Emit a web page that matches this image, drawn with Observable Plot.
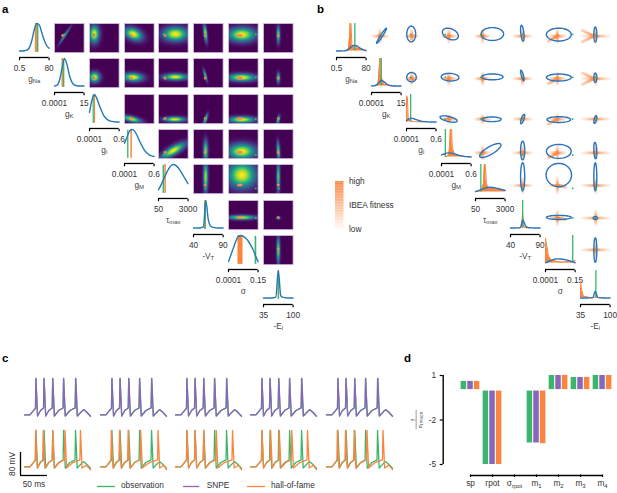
<!DOCTYPE html>
<html><head><meta charset="utf-8">
<script src="https://cdn.jsdelivr.net/npm/d3@7"></script>
<script src="https://cdn.jsdelivr.net/npm/@observablehq/plot@0.6"></script>
<style>
html,body{margin:0;padding:0;background:#fff}
#stage{position:relative;width:617px;height:493px;overflow:hidden;font-family:"Liberation Sans",Arial,sans-serif}
#stage svg{position:absolute;overflow:visible;background:transparent}
.tag{position:absolute;font-weight:bold;font-size:11.5px;color:#000;line-height:12px}
.key{position:absolute;font-size:8.3px;color:#333;line-height:10px;white-space:nowrap}
</style></head><body><div id="stage"></div>
<script>
// ---------- parameters ----------
const paramNames = ["g_Na","g_K","g_l","g_M","τ_max","-V_T","σ","-E_l"];
const paramLo = [0.5,0.0001,0.0001,0.0001,50,40,0.0001,35];
const paramHi = [80,15,0.6,0.6,3000,90,0.15,100];

// posterior marginals, read at 13 even steps across each axis
const margGNa = [0,0,.01,.03,.12,.38,.78,1,.95,.68,.4,.2,.1];
const margGK  = [0,.02,.2,.62,1,.8,.4,.15,.04,.01,0,0,0];
const margGl  = [.35,.8,1,.85,.6,.38,.2,.1,.05,.02,.01,0,0];
const margGM  = [.5,.72,.93,1,.95,.8,.6,.42,.26,.15,.08,.04,.02];
const margTau = [.08,.25,.45,.65,.82,.95,1,.97,.88,.75,.6,.45,.3];
const margVT  = [0,0,0,.01,.04,1,.3,.06,.02,.01,0,0,0];
const margSig = [.05,.3,.55,.8,.97,1,.97,.9,.8,.65,.48,.25,.05];
const margEl  = [0,0,0,0,.01,.03,1,.08,.02,.01,0,0,0];
const marginals = [margGNa,margGK,margGl,margGM,margTau,margVT,margSig,margEl];
const priorPeak = [.2,.2,.14,.15,.17,.3,.15,.25];

// hall-of-fame and observation positions (fraction of each axis)
const hofBarLo = [.535,.255,.155,.215,.215,.38,.32,.495];
const hofBarHi = [.605,.305,.205,.265,.265,.44,.49,.545];
const obsBarLo = [.605,.305,.12,.105,.155,.385,.9,.5];
const obsBarHi = [.655,.35,.16,.15,.205,.43,.955,.54];
const hofX = [.57,.29,.18,.25,.24,.41,.4,.515];
const hofY = [.43,.69,.84,.8,.72,.6,.49,.5];
const obsX = [.62,.33,.14,.13,.18,.41,.92,.52];
const obsY = [.37,.64,.84,.87,.82,.6,.5,.5];

// hall-of-fame histograms in panel b: [axis fraction, height]
const hofHistGNa = [[.3,0],[.4,.02],[.44,.5],[.46,1],[.49,1],[.52,.22],[.6,.12],[.75,.1],[.92,.05],[1,0]];
const hofHistGK  = [[.1,0],[.22,.04],[.26,.6],[.28,1],[.31,1],[.34,.3],[.42,.06],[.6,.02],[.8,0]];
const hofHistGl  = [[0,.95],[.03,.9],[.06,.1],[.15,.03],[.3,.01],[.5,0]];
const hofHistGM  = [[.12,.01],[.2,.03],[.25,.1],[.28,.5],[.3,1],[.34,1],[.37,.3],[.45,.1],[.6,.05],[.8,.02],[1,0]];
const hofHistTau = [[0,.02],[.2,.05],[.27,.3],[.3,1],[.33,1],[.37,.3],[.45,.1],[.6,.15],[.7,.1],[.85,.1],[1,.07]];
const hofHistVT  = [[.3,0],[.38,.05],[.41,.55],[.44,.05],[.55,0]];
const hofHistSig = [[0,.9],[.05,.6],[.1,.25],[.2,.1],[.4,.05],[.6,.03],[.85,.05],[1,.08]];
const hofHistEl  = [[0,.6],[.04,.3],[.1,.06],[.3,.02],[.5,.02],[.53,.1],[.56,.02],[.8,0]];
const hofHists = [hofHistGNa,hofHistGK,hofHistGl,hofHistGM,hofHistTau,hofHistVT,hofHistSig,hofHistEl];

// pairwise posterior: [column, centre x, centre y, spread x, spread y, correlation, peak]
const pairsRow0 = [[1,.34,.42,.17,.26,-.97,.62],[2,.16,.36,.15,.27,0,1],[3,.3,.36,.27,.2,.35,1],[4,.57,.36,.38,.22,0,1],[5,.4,.33,.06,.27,.5,.95],[6,.45,.38,.42,.22,0,1],[7,.5,.38,.05,.26,0,.85]];
const pairsRow1 = [[2,.17,.64,.16,.16,0,1],[3,.29,.64,.3,.13,.1,1],[4,.57,.63,.36,.1,0,1],[5,.4,.58,.06,.18,.8,.8],[6,.45,.65,.42,.12,0,1],[7,.5,.66,.05,.16,0,.75]];
const pairsRow2 = [[3,.24,.84,.29,.11,.6,.95],[4,.55,.85,.32,.08,0,1],[5,.41,.84,.07,.16,-.75,.85],[6,.45,.86,.4,.1,0,1],[7,.5,.86,.05,.13,-.55,.8]];
const pairsRow3 = [[4,.5,.72,.36,.24,-.78,1],[5,.41,.72,.07,.32,0,.85],[6,.45,.75,.42,.24,0,1],[7,.5,.72,.05,.28,.25,.8]];
const pairsRow4 = [[5,.41,.42,.07,.48,0,.9],[6,.45,.36,.43,.4,0,1],[7,.5,.42,.05,.48,0,.8]];
const pairsRow5 = [[6,.45,.58,.42,.07,0,.95],[7,.5,.6,.07,.05,0,.38]];
const pairsRow6 = [[7,.5,.5,.05,.42,0,.85]];
const pairRows = [pairsRow0,pairsRow1,pairsRow2,pairsRow3,pairsRow4,pairsRow5,pairsRow6];
const armX = [.26,.26,.2,.26,.24,.3,.26,.45];
const armY = [.22,.2,.12,.22,.26,.24,.26,.26];

// voltage traces: spike times in ms per column
const obsSpikes = [21,36,52,72,94];
const snpeSpikes = [[21,36,52,72,94.5],[21,36,52,72,94.4],[21,36,52,72,94.4],[21,36,52,72,94.5],[21,36,52,72,94.6]];
const hofSpikes = [[20.5,34.5,52,74.5,103],[20,35,51,74,106],[21,36,52,75,105],[21,37,53,76,105],[20,35,51,74.5,104]];
const obsTail = [[3,-74],[12,-56],[15,-52],[20,-60],[27.5,-75]];
const hofTail = [[3,-74],[8,-68],[11,-64],[18.5,-80]];
const traceEnd = 121.5;
const scaleBarMs = 50, scaleBarMv = 80;

// panel d
const features = ["sp","rpot","σ_rpot","m_1","m_2","m_3","m_4"];
const devObs  = [.6,-5,null,-3.55,1,.87,1];
const devSnpe = [.6,-5,null,-3.55,1,.87,1];
const devHof  = [.6,-5,null,-3.6,1,.87,1];
const yTicksD = [1,-2,-5];

// ---------- styling and helpers ----------
const GREEN="#3bb56c",PURPLE="#8a66b8",ORANGE="#f9853f",BLUE="#2b74bd",TEAL="#2379b5",TXT="#333";
const FONT="Liberation Sans";
const stage=document.getElementById("stage");

function subscripts(svg){
  d3.select(svg).selectAll("text").each(function(){
    const t=this.textContent;
    if(!t.includes("_")||this.querySelector("title"))return;
    const host=this.querySelector("tspan")||this;
    const [a,b]=t.split("_");
    host.textContent=a;
    const s=document.createElementNS("http://www.w3.org/2000/svg","tspan");
    s.setAttribute("font-size","0.72em");s.setAttribute("dy","0.3em");s.textContent=b;
    host.appendChild(s);
  });
}
function put(left,top,opts){
  const svg=Plot.plot({marginTop:0,marginRight:0,marginBottom:0,marginLeft:0,...opts,
    style:{fontFamily:FONT,fontSize:"8.3px",background:"transparent",overflow:"visible"}});
  svg.style.left=left+"px";svg.style.top=top+"px";
  subscripts(svg);stage.appendChild(svg);return svg;
}
function html(cls,left,top,txt){
  const d=document.createElement("div");d.className=cls;d.style.left=left+"px";d.style.top=top+"px";
  d.textContent=txt;stage.appendChild(d);return d;
}
const colX=(x0,c)=>x0+34.87*c, rowY=r=>23+35.3*r, W=29.6, H=29.2;

function diag(x0,i,marks){
  const lo=paramLo[i],hi=paramHi[i],u=f=>lo+f*(hi-lo),mid=(lo+hi)/2;
  put(colX(x0,i),rowY(i),{width:W,height:H,
    x:{domain:[lo,hi],range:[0,W],axis:null},y:{domain:[0,1],range:[H-1.7,0],axis:null},
    marks:[
      ...marks(u),
      Plot.ruleY([0],{x1:lo,x2:hi,dy:6.5,stroke:"#000",strokeWidth:1.3}),
      Plot.axisX([lo,hi],{anchor:"bottom",dy:5.5,tickSize:2.5,tickPadding:4,fontSize:8.3,stroke:"#000",strokeWidth:1.2,fill:TXT,label:null,tickFormat:String}),
      Plot.text([paramNames[i]],{x:mid,y:0,dy:28,fontSize:8.3,fill:"#444"})
    ]});
}
const blueLine=(i,scale,stroke)=>Plot.line(marginals[i].map((v,k)=>({f:k/12,v:v*scale})),{
  x:d=>paramLo[i]+d.f*(paramHi[i]-paramLo[i]),y:"v",stroke,strokeWidth:1.4,curve:"monotone-x"});

// ---------- panel a ----------
html("tag",2,3,"a");
paramNames.forEach((_,i)=>diag(19,i,u=>[
  Plot.rect([0],{x1:u(hofBarLo[i]),x2:u(hofBarHi[i]),y1:-.05,y2:1,fill:ORANGE}),
  Plot.rect([0],{x1:u(obsBarLo[i]),x2:u(obsBarHi[i]),y1:-.05,y2:.97,fill:GREEN}),
  blueLine(i,1,TEAL)
]));
const heatK=.72;
pairRows.forEach((row,r)=>row.forEach(([c,cx,cy,sx,sy,rho,amp])=>{
  const a=sx*heatK,b=sy*heatK;
  put(colX(19,c),rowY(r),{width:W,height:H,
    x:{domain:[0,1],range:[0,W],axis:null},y:{domain:[0,1],range:[0,H],axis:null},
    color:{type:"linear",scheme:"viridis",domain:[0,1]},
    marks:[
      Plot.raster({x1:0,x2:1,y1:0,y2:1,fill:(x,y)=>{
        const p=(x-cx)/a,q=(y-cy)/b;
        return amp*Math.exp(-(p*p-2*rho*p*q+q*q)/(2*(1-rho*rho)));
      }}),
      Plot.frame({stroke:"#d3c2dc",strokeWidth:.8}),
      Plot.rect([0],{x1:hofX[c]-(c===6?.09:.045),x2:hofX[c]+(c===6?.09:.045),y1:hofY[r]-.045,y2:hofY[r]+.045,fill:"#f0885c",rx:1}),
      Plot.dot([0],{x:obsX[c],y:obsY[r],r:1,fill:GREEN})
    ]});
}));

// ---------- panel b ----------
html("tag",317,3,"b");
const fitnessScale={type:"linear",domain:[0,1],range:["#fff8f3",ORANGE]};
paramNames.forEach((_,i)=>diag(336,i,u=>[
  Plot.areaY(hofHists[i],{x:d=>u(d[0]),y1:0,y2:d=>d[1],fill:ORANGE,curve:"linear"}),
  Plot.line(hofHists[i],{x:d=>u(d[0]),y:d=>d[1],stroke:ORANGE,strokeWidth:1,curve:"linear"}),
  Plot.ruleX([u(obsX[i])],{y1:0,y2:1,stroke:GREEN,strokeWidth:1.3}),
  blueLine(i,priorPeak[i],BLUE)
]));
const armStops=[.12,.25,.4,.55,.7,.85,1], armFit=[.8,.62,.48,.36,.26,.16,.08];
pairRows.forEach((row,r)=>row.forEach(([c,cx,cy,sx,sy,rho])=>{
  const pts=[];
  armStops.forEach((s,k)=>{
    const fit=armFit[k];
    [-1,1].forEach(sign=>{
      pts.push({x:hofX[c]+sign*s*armX[c],y:hofY[r],f:fit});
      pts.push({x:hofX[c],y:hofY[r]+sign*s*armY[r],f:fit});
      if(c===7&&r<2&&s>.2) pts.push({x:hofX[c]-s*.45,y:hofY[r]+sign*(s-.12)*.22,f:fit+.25});
    });
    if(c===6&&r<4&&s>.2) pts.push({x:hofX[c]-s*.3,y:hofY[r]+s*.17,f:fit+.3});
    if(r>=4&&c===6&&s>.2) pts.push({x:hofX[c]+s*.28,y:hofY[r]+s*.05,f:fit+.25});
  });
  pts.push({x:hofX[c],y:hofY[r],f:1});
  pts.sort((p,q)=>p.f-q.f);
  const ell=d3.range(0,49).map(k=>{
    const t=k/48*2*Math.PI;
    return {x:cx+sx*Math.cos(t),y:cy+sy*(rho*Math.cos(t)+Math.sqrt(1-rho*rho)*Math.sin(t))};
  });
  put(colX(336,c),rowY(r),{width:W,height:H,
    x:{domain:[0,1],range:[0,W],axis:null},y:{domain:[0,1],range:[0,H],axis:null},
    color:fitnessScale,
    marks:[
      Plot.dot(pts,{x:"x",y:"y",r:1.6,fill:"f",fillOpacity:.9}),
      Plot.line(ell,{x:"x",y:"y",stroke:BLUE,strokeWidth:1.4,curve:"linear"}),
      Plot.dot([0],{x:obsX[c],y:obsY[r],r:.9,fill:GREEN})
    ]});
}));

// fitness legend
const fitnessLevels=d3.range(0,30).map(k=>k/30);
put(335.3,180.7,{width:8.5,height:47.5,
  x:{domain:[0,1],range:[0,8.5],axis:null},y:{domain:[0,1],range:[47.5,0],axis:null},
  color:fitnessScale,
  marks:[
    Plot.rect(fitnessLevels,{x1:0,x2:1,y1:d=>d,y2:d=>d+1/29.5,fill:d=>d}),
    Plot.text(["high","IBEA fitness","low"],{x:1,y:[1,.5,0],dx:5,textAnchor:"start",fontSize:8.3,fill:TXT})
  ]});

// ---------- panel c ----------
html("tag",2,352,"c");
function buildTrace(spikes,tail){
  const pts=[[0,-70],[10,-70]];
  spikes.forEach((s,k)=>{
    if(k===0){pts.push([s-3,-52],[s-.8,-47]);}
    else{const p=spikes[k-1],gap=s-p-3;pts.push([p+3,-74],[p+3+.45*gap,-55],[s-1,-46]);}
    pts.push([s,57]);
  });
  const last=spikes[spikes.length-1];
  tail.forEach(([dt,v])=>pts.push([Math.min(last+dt,traceEnd),v]));
  return pts.map(([t,v])=>({t,v}));
}
const cCols=[24,100,175,250,326];
const cW=66,cH=43.1;
function traces(left,top,series){
  put(left,top,{width:cW,height:cH,
    x:{domain:[0,traceEnd],range:[0,cW],axis:null},y:{domain:[-90,60],range:[cH,0],axis:null},
    marks:series.map(([d,c])=>Plot.line(d,{x:"t",y:"v",stroke:c,strokeWidth:1.3,curve:"linear"}))});
}
cCols.forEach((x,i)=>{
  const obs=buildTrace(obsSpikes,obsTail);
  traces(x,376.6,[[obs,GREEN],[buildTrace(snpeSpikes[i],obsTail),PURPLE]]);
  traces(x,429.3,[[obs,GREEN],[buildTrace(hofSpikes[i],hofTail),ORANGE]]);
});
put(19.5,452,{width:27.4,height:23,
  x:{domain:[0,scaleBarMs],range:[0,27],axis:null},y:{domain:[0,scaleBarMv],range:[23,0],axis:null},
  marks:[
    Plot.ruleX([0],{y1:0,y2:scaleBarMv,stroke:"#000",strokeWidth:1.3}),
    Plot.ruleY([0],{x1:0,x2:scaleBarMs,stroke:"#000",strokeWidth:1.3}),
    Plot.text(["80 mV"],{x:0,y:scaleBarMv/2,dx:-8,rotate:-90,fontSize:8.3,fill:TXT}),
    Plot.text(["50 ms"],{x:scaleBarMs/2,y:0,dy:8.5,fontSize:8.3,fill:TXT})
  ]});
[["observation",GREEN,97,115,121],["SNPE",PURPLE,182.7,199,206.7],["hall-of-fame",ORANGE,246.7,265,271]].forEach(([t,c,a,b,x])=>{
  put(a,484.5,{width:b-a,height:2,x:{domain:[0,1],range:[0,b-a],axis:null},y:{domain:[0,1],range:[2,0],axis:null},
    marks:[Plot.ruleY([.5],{x1:0,x2:1,stroke:c,strokeWidth:1.3})]});
  html("key",x,480.3,t);
});

// ---------- panel d ----------
html("tag",404,352,"d");
const barSets=[[devObs,GREEN,-1],[devSnpe,PURPLE,0],[devHof,ORANGE,1]];
const barRows=barSets.flatMap(([vals,c,k])=>vals.map((v,i)=>({i,k,v,c})).filter(d=>d.v!==null));
put(400,350,{width:217,height:114,marginLeft:42.7,
  x:{domain:[-1.241,6.68],range:[42.7,217],axis:null},y:{domain:[-5,1],range:[114,25],axis:null},
  marks:[
    Plot.rect(barRows,{x1:d=>d.i+d.k*.3-.125,x2:d=>d.i+d.k*.3+.125,y1:d=>d.v<0?-.05:.05,y2:"v",fill:"c"}),
    Plot.ruleX([-1.241],{y1:-5,y2:1,stroke:"#000",strokeWidth:1.4}),
    Plot.axisY(yTicksD,{anchor:"left",tickSize:3,tickPadding:4,fontSize:8.3,stroke:"#000",strokeWidth:1.2,fill:TXT,label:null,tickFormat:String}),
    Plot.ruleY([-5],{x1:0,x2:6,dy:11,stroke:"#000",strokeWidth:1.3}),
    Plot.axisX(d3.range(features.length),{anchor:"bottom",dy:10.5,tickSize:2.5,tickPadding:3,fontSize:8.3,stroke:"#000",strokeWidth:1.2,fill:TXT,label:null,tickFormat:i=>features[i]}),
    Plot.text(["f"],{x:-2.62,y:-2,rotate:-90,fontSize:6,fill:TXT}),
    Plot.ruleX([-2.47],{y1:-2.65,y2:-1.35,stroke:TXT,strokeWidth:.5}),
    Plot.text(["σ_f PRIOR"],{x:-2.3,y:-2,rotate:-90,fontSize:5,fill:TXT})
  ]});
</script></body></html>
